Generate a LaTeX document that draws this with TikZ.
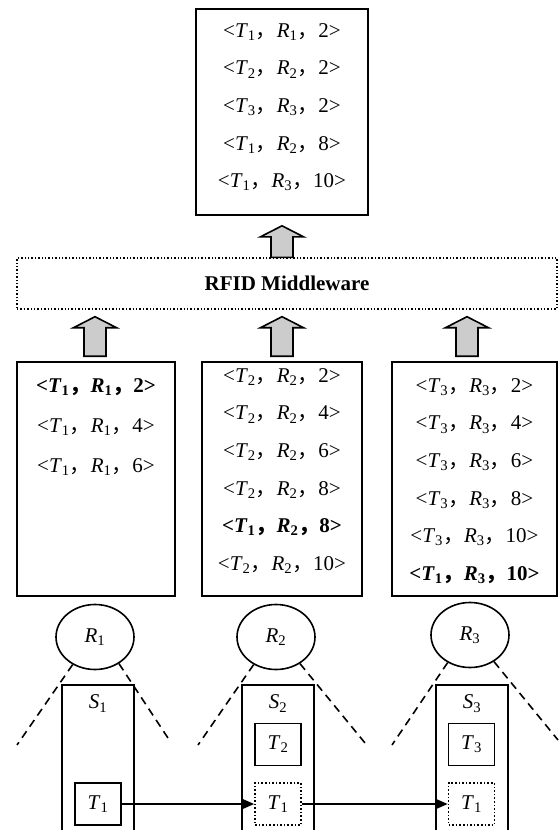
\documentclass[tikz,border=0pt]{standalone}
\usepackage{fontspec}
\setmainfont{Liberation Serif}
\newfontfamily\cjk{Noto Sans CJK SC}
\usetikzlibrary{positioning,shapes.geometric,arrows.meta,calc}

\newcommand{\fwcomma}{{\cjk ，}}
\newcommand{\tup}[3]{<\textit{T}\textsubscript{#1}\fwcomma\textit{R}\textsubscript{#2}\fwcomma#3>}
\newcommand{\tupb}[3]{\textbf{\tup{#1}{#2}{#3}}}
\newcommand{\sym}[2]{\textit{#1}\textsubscript{#2}}
% wide up arrow from #1 (tail) to the height of #2 (tip)
\newcommand{\blockarrow}[2]{%
  \draw[blockarrow] let \p1=(#1), \p2=(#2) in
    (\x1-11pt,\y1) -- (\x1-11pt,\y2-11pt) -- (\x1-21.5pt,\y2-11pt) -- (\x1,\y2)
    -- (\x1+21.5pt,\y2-11pt) -- (\x1+11pt,\y2-11pt) -- (\x1+11pt,\y1) -- cycle;}

\begin{document}
\begin{tikzpicture}[x=1pt, y=-1pt, font=\fontsize{21}{25}\selectfont,
        listbox/.style={rectangle, draw, line width=1.6pt, inner sep=0pt},
        rows/.style={align=center, inner sep=0pt, font=\fontsize{21}{37.6}\selectfont},
        mware/.style={rectangle, draw, dotted, line width=1.4pt, minimum width=540pt, minimum height=51pt},
        reader/.style={ellipse, draw, line width=1.6pt, minimum width=78pt, minimum height=65pt, inner sep=0pt},
        zone/.style={rectangle, minimum width=72pt, minimum height=145pt, inner sep=0pt},
        tag/.style={rectangle, draw, line width=1.6pt, minimum width=46pt, minimum height=42pt, inner sep=0pt},
        ghost/.style={tag, dotted},
        coverage/.style={dash pattern=on 8pt off 5.5pt, line width=1.6pt},
        blockarrow/.style={draw, line width=1.6pt, fill=gray!40},
        move/.style={line width=1.9pt, -{Triangle[length=12pt, width=10pt]}}
    ]
    \useasboundingbox (0,0) rectangle (558,830);

    % cleaned output
    \node[listbox, minimum width=172pt, minimum height=206pt] (out) at (282,112) {};
    \node[rows, below=15pt of out.north] (outrows) {\tup{1}{1}{2}\\ \tup{2}{2}{2}\\ \tup{3}{3}{2}\\ \tup{1}{2}{8}\\ \tup{1}{3}{10}};

    \node[mware] (mw) at (287,283.5) {\textbf{RFID Middleware}};

    % raw readings of each reader
    \node[listbox, minimum width=158pt, minimum height=234pt] (L1) at (96,479) {};
    \node[listbox, minimum width=160pt, minimum height=234pt] (L2) at (282,479) {};
    \node[listbox, minimum width=165pt, minimum height=234pt] (L3) at (474.5,479) {};
    \node[rows, font=\fontsize{21}{40}\selectfont, below=17pt of L1.north] (L1rows) {\tupb{1}{1}{2}\\ \tup{1}{1}{4}\\ \tup{1}{1}{6}};
    \node[rows, below=7pt of L2.north] (L2rows) {\tup{2}{2}{2}\\ \tup{2}{2}{4}\\ \tup{2}{2}{6}\\ \tup{2}{2}{8}\\ \tupb{1}{2}{8}\\ \tup{2}{2}{10}};
    \node[rows, below=17pt of L3.north] (L3rows) {\tup{3}{3}{2}\\ \tup{3}{3}{4}\\ \tup{3}{3}{6}\\ \tup{3}{3}{8}\\ \tup{3}{3}{10}\\ \tupb{1}{3}{10}};

    \blockarrow{mw.north -| out.south}{[yshift=-10pt]out.south}
    \blockarrow{[xshift=-1pt, yshift=5pt]L1.north}{[yshift=-7pt]mw.south}
    \blockarrow{[yshift=5pt]L2.north}{[yshift=-7pt]mw.south}
    \blockarrow{[xshift=-7.5pt, yshift=5pt]L3.north}{[yshift=-7pt]mw.south}

    % readers and their zones
    \node[reader] (R1) at (95,637) {\sym{R}{1}};
    \node[reader] (R2) at (276,637) {\sym{R}{2}};
    \node[reader] (R3) at (470,635) {\sym{R}{3}};

    \node[zone] (S1) at (98,757.5) {};
    \node[zone] (S2) at (278,757.5) {};
    \node[zone] (S3) at (472,757.5) {};
    \foreach \s in {S1,S2,S3}
        \draw[line width=1.6pt] (\s.south west) -- (\s.north west) -- (\s.north east) -- (\s.south east);
    \node[inner sep=0pt, below=10pt of S1.north] (S1t) {\sym{S}{1}};
    \node[inner sep=0pt, below=10pt of S2.north] (S2t) {\sym{S}{2}};
    \node[inner sep=0pt, below=10pt of S3.north] (S3t) {\sym{S}{3}};

    \coordinate (R1l) at (17,745);
    \coordinate (R1r) at (168,738);
    \coordinate (R2l) at (198,745);
    \coordinate (R2r) at (365,743);
    \coordinate (R3l) at (392,745);
    \coordinate (R3r) at (558,740);
    \foreach \r in {R1,R2,R3} {
        \draw[coverage] (\r.231) -- (\r l);
        \draw[coverage] (\r.312) -- (\r r);
    }

    % tags
    \node[tag] (T1a) at (98,804) {\sym{T}{1}};
    \node[tag] (T2) at (278,744.5) {\sym{T}{2}};
    \node[ghost] (T1b) at (278,804) {\sym{T}{1}};
    \node[tag] (T3) at (471.5,744.5) {\sym{T}{3}};
    \node[ghost] (T1c) at (471.5,804) {\sym{T}{1}};

    \draw[move] (T1a) -- (T1b);
    \draw[move] (T1b) -- (T1c);
\end{tikzpicture}
\end{document}
